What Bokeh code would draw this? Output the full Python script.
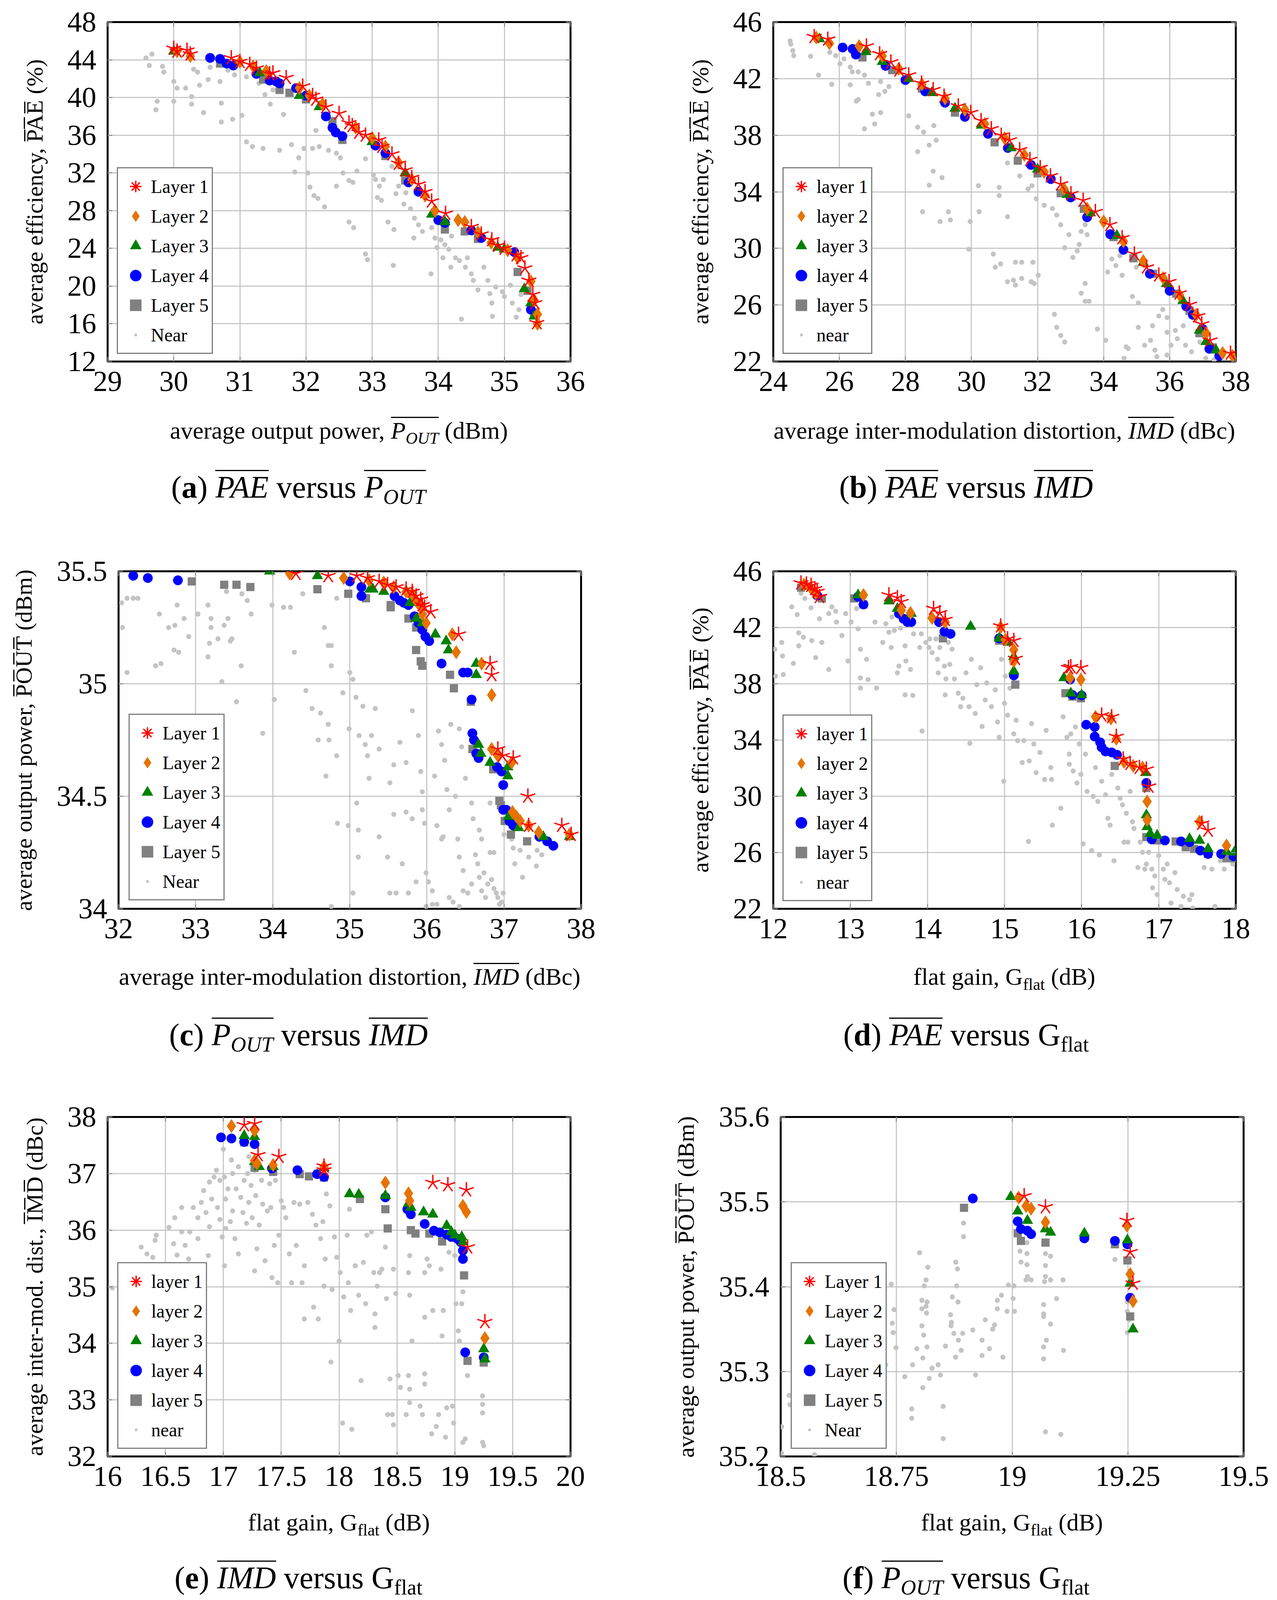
from bokeh.plotting import figure
from bokeh.models import Range1d, FixedTicker, LinearAxis, Legend, LegendItem, Div
from bokeh.layouts import column, row
from bokeh.embed import file_html
from bokeh.resources import INLINE

# ---------------- data ----------------
UPPER_NAMES = ["Layer 1", "Layer 2", "Layer 3", "Layer 4", "Layer 5", "Near"]
LOWER_NAMES = ["layer 1", "layer 2", "layer 3", "layer 4", "layer 5", "near"]

# (a) PAE vs POUT
A_L1 = [(30.0,45.2),(30.05,44.9),(30.2,45.0),(30.25,44.6),(30.87,44.2),(31.0,43.8),(31.15,43.5),(31.25,43.1),(31.45,42.5),(31.5,42.6),(31.7,42.1),(31.95,41.2),(32.1,40.2),(32.15,39.8),(32.3,39.0),(32.5,38.3),(32.65,37.3),(32.7,37.0),(32.8,36.3),(32.9,36.0),(33.1,35.5),(33.15,34.8),(33.3,34.0),(33.4,33.0),(33.5,32.3),(33.6,31.5),(33.7,30.8),(33.8,30.0),(33.9,29.0),(34.11,27.7),(34.5,26.3),(34.65,25.5),(34.81,24.9),(34.9,24.3),(35.0,24.0),(35.18,23.3),(35.25,23.0),(35.31,21.9),(35.37,20.6),(35.43,19.1),(35.46,18.2),(35.49,16.1)]
A_L2 = [(30.05,44.9),(30.25,44.4),(31.0,43.8),(31.2,43.3),(31.4,42.8),(31.9,41.0),(32.05,40.2),(32.25,39.3),(32.75,36.8),(33.0,35.7),(33.2,34.8),(33.4,33.1),(33.6,31.3),(33.8,29.6),(33.95,28.0),(34.3,27.0),(34.4,26.8),(34.6,25.7),(34.8,24.6),(35.05,23.8),(35.2,23.0),(35.4,20.5),(35.45,18.5),(35.5,17.0),(35.5,16.0)]
A_L3 = [(30.0,44.9),(31.3,42.6),(31.9,40.2),(32.2,39.0),(33.0,35.3),(33.5,32.0),(33.9,27.6),(34.1,26.8),(34.9,24.1),(35.0,23.9),(35.3,19.7),(35.4,18.2),(35.45,16.8)]
A_L4 = [(30.55,44.2),(30.7,44.1),(30.8,43.6),(30.9,43.4),(31.25,42.5),(31.45,41.8),(31.55,41.7),(31.6,41.5),(31.85,41.0),(32.0,40.2),(32.3,38.0),(32.4,36.8),(32.45,36.3),(32.55,35.9),(33.05,34.9),(33.2,34.1),(33.55,31.0),(33.7,30.0),(34.0,27.0),(34.1,26.7),(34.5,25.9),(34.65,25.1),(35.15,23.6),(35.4,17.5)]
A_L5 = [(30.7,43.6),(31.35,41.9),(31.6,40.8),(31.75,40.5),(32.0,39.8),(32.4,37.5),(32.55,35.5),(33.2,33.8),(33.5,31.2),(34.1,26.0),(34.4,25.8),(34.6,25.0),(35.2,21.5),(35.35,19.5),(35.45,17.2)]
A_NEAR = [(29.58,44.2),(29.67,44.6),(29.63,43.4),(29.83,43.3),(29.85,42.7),(30.0,41.7),(30.05,41.0),(30.18,41.0),(29.75,39.6),(29.73,38.7),(30.0,39.6),(30.27,40.1),(30.27,39.3),(30.45,38.4),(30.72,39.4),(30.72,37.4),(30.89,37.7),(31.03,38.1),(30.7,41.7),(30.55,43.2),(30.36,42.7),(30.39,41.3),(30.52,41.9),(30.82,42.9),(30.92,42.4),(31.1,42.2),(31.29,41.5),(31.38,40.3),(31.46,39.3),(31.66,38.2),(31.1,35.3),(31.19,34.8),(31.35,34.6),(31.6,34.4),(31.78,35.0),(31.89,33.6),(31.83,32.1),(32.03,32.0),(31.97,34.6),(32.1,34.6),(32.2,34.8),(32.15,36.5),(32.34,34.4),(32.46,34.1),(32.52,33.6),(32.56,32.0),(32.65,31.2),(32.71,31.0),(32.77,32.2),(32.06,30.5),(32.12,29.6),(32.18,29.3),(32.28,28.4),(32.46,30.6),(32.65,26.8),(32.72,26.2),(32.9,23.4),(32.93,22.8),(33.02,31.8),(33.05,31.3),(33.11,30.6),(33.17,31.3),(33.3,32.7),(33.08,29.4),(33.14,29.1),(33.24,26.8),(33.33,26.0),(33.32,22.2),(33.36,29.8),(33.48,28.7),(33.51,29.9),(33.58,28.2),(33.63,25.1),(33.64,27.2),(33.7,26.5),(33.76,25.8),(33.89,21.3),(33.95,25.1),(33.98,24.1),(34.04,24.9),(34.07,23.0),(34.1,24.4),(34.16,23.9),(34.19,22.0),(34.26,23.0),(34.32,22.7),(34.35,16.5),(34.41,22.0),(34.44,23.0),(34.5,21.3),(34.53,20.6),(34.6,19.6),(34.69,22.0),(34.75,20.6),(34.78,19.2),(34.81,18.2),(34.82,16.8),(34.87,19.9),(34.97,19.4),(35.0,18.9),(35.09,20.1),(35.12,18.2),(35.18,16.7),(35.22,17.5),(35.25,19.1),(33.9,26.2),(34.2,25.3),(33.4,30.6),(32.9,33.5),(31.5,40.8),(30.3,43.0)]

# (b) PAE vs IMD
B_L1 = [(25.24,44.96),(25.65,44.78),(26.82,44.3),(27.22,43.75),(27.56,43.17),(27.81,42.6),(28.1,42.25),(28.49,41.67),(28.84,41.21),(29.17,40.75),(29.6,40.06),(29.98,39.6),(30.29,39.03),(30.6,38.45),(30.9,37.99),(31.15,37.65),(31.46,36.96),(31.77,36.27),(32.08,35.7),(32.39,35.12),(32.7,34.54),(33.01,33.85),(33.38,33.39),(33.75,32.59),(34.19,31.67),(34.56,30.74),(34.93,29.6),(35.3,28.67),(35.67,28.1),(35.98,27.64),(36.29,26.83),(36.6,26.03),(36.85,25.22),(36.97,24.65),(37.22,23.5),(37.84,22.58)]
B_L2 = [(25.3,44.9),(25.7,44.5),(26.6,44.3),(27.3,43.6),(27.8,42.7),(28.5,41.6),(29.2,40.6),(29.8,39.8),(30.4,38.8),(31.0,37.8),(31.6,36.6),(32.2,35.4),(32.8,34.2),(33.5,32.8),(34.0,31.9),(34.6,30.5),(35.2,29.1),(35.8,27.9),(36.3,26.7),(36.8,25.3),(37.1,24.0),(37.6,22.6),(37.9,22.4)]
B_L3 = [(25.4,44.8),(26.8,43.9),(27.3,43.2),(28.1,42.0),(28.8,41.0),(29.5,39.9),(30.3,38.7),(31.2,37.1),(32.0,35.6),(32.9,33.8),(33.6,32.5),(34.4,30.9),(35.2,29.0),(35.9,27.5),(36.4,26.3),(36.9,24.2),(37.1,23.4),(37.4,22.8)]
B_L4 = [(26.1,44.2),(26.4,44.1),(26.5,43.7),(27.4,42.9),(28.0,41.9),(28.6,41.1),(29.2,40.3),(29.8,39.3),(30.5,38.1),(31.1,37.1),(31.8,35.9),(32.4,34.9),(33.0,33.6),(33.5,32.2),(34.2,31.0),(34.6,29.9),(35.4,28.2),(36.0,27.0),(36.5,25.9),(36.7,25.3),(37.0,24.3),(37.2,22.9),(37.5,22.4)]
B_L5 = [(26.7,43.5),(27.6,42.6),(28.5,41.3),(29.5,39.6),(30.7,37.5),(31.4,36.2),(32.0,35.3),(32.7,33.9),(33.4,32.8),(34.3,30.8),(34.9,29.3),(35.5,28.2),(36.2,26.8),(36.6,25.6),(36.9,24.0),(37.3,23.0)]
B_NEAR = [(24.51,44.67),(24.53,44.44),(24.59,43.98),(24.62,43.63),(25.13,43.58),(25.37,42.25),(25.77,41.6),(25.71,43.86),(25.89,43.63),(26.02,43.05),(26.14,43.4),(26.33,42.82),(26.39,42.48),(26.57,42.48),(26.76,42.25),(26.33,41.56),(26.51,40.41),(26.57,40.52),(27.0,39.49),(27.25,39.6),(26.76,38.45),(27.07,38.8),(27.25,41.79),(27.5,41.44),(26.88,41.67),(27.19,40.87),(27.38,41.1),(28.1,39.37),(28.37,38.57),(28.37,36.84),(28.55,38.22),(28.72,37.3),(28.86,38.68),(28.93,37.65),(28.84,35.46),(29.11,35.0),(28.72,34.47),(28.52,32.59),(29.05,31.9),(29.3,32.59),(29.36,32.01),(29.92,29.94),(29.96,31.9),(30.23,32.59),(30.21,34.43),(30.66,29.6),(30.72,28.67),(30.88,28.9),(30.84,34.31),(30.84,33.74),(31.09,32.24),(31.09,27.64),(31.27,27.75),(31.33,27.41),(31.33,29.02),(31.52,27.87),(31.52,29.02),(31.81,27.64),(31.86,29.02),(31.9,27.52),(32.02,28.1),(31.09,36.04),(31.46,35.12),(31.71,34.2),(31.83,34.43),(31.96,33.51),(32.2,33.05),(32.45,32.82),(32.58,32.36),(32.7,31.67),(32.95,30.97),(32.82,30.05),(33.07,29.36),(33.2,29.82),(33.26,30.28),(33.32,31.2),(33.44,31.67),(33.5,30.97),(33.44,27.52),(33.32,26.83),(33.44,26.26),(33.56,26.26),(32.51,25.34),(32.58,24.42),(32.7,23.84),(32.82,23.38),(33.81,24.3),(34.06,23.5),(34.12,28.33),(34.37,28.79),(34.49,29.48),(34.56,28.1),(34.68,23.04),(34.74,22.92),(34.62,22.23),(34.87,26.6),(35.05,26.14),(35.05,24.42),(35.24,23.15),(35.42,23.5),(35.48,24.53),(35.55,22.81),(35.61,22.35),(35.67,25.22),(35.79,25.68),(35.92,24.07),(35.92,25.11),(35.92,22.46),(36.04,23.15),(36.17,24.19),(36.23,23.61),(36.41,24.53),(36.48,23.15),(36.66,22.69),(36.91,23.38),(37.09,22.23),(37.34,22.12),(34.99,28.67),(34.25,29.25)]

# (c) POUT vs IMD
C_L1 = [(34.3,35.49),(34.72,35.48),(35.09,35.48),(35.23,35.47),(35.38,35.455),(35.49,35.44),(35.6,35.43),(35.73,35.42),(35.81,35.41),(35.86,35.39),(35.92,35.375),(35.94,35.35),(35.97,35.34),(36.05,35.32),(36.41,35.22),(36.82,35.09),(36.84,35.04),(36.92,34.71),(36.98,34.68),(37.12,34.67),(37.31,34.5),(37.32,34.37),(37.75,34.37),(37.87,34.33)]
C_L2 = [(34.22,35.49),(34.92,35.47),(35.25,35.46),(35.44,35.45),(35.57,35.43),(35.73,35.41),(35.81,35.4),(35.86,35.37),(35.92,35.34),(35.94,35.31),(35.99,35.27),(36.33,35.22),(36.38,35.14),(36.71,35.09),(36.84,34.95),(36.84,34.71),(36.92,34.68),(37.1,34.65),(37.11,34.43),(37.16,34.41),(37.21,34.39),(37.32,34.37),(37.45,34.34),(37.85,34.33)]
C_L3 = [(33.96,35.5),(34.58,35.48),(35.26,35.42),(35.3,35.42),(35.44,35.41),(35.78,35.36),(35.86,35.29),(35.94,35.27),(36.11,35.22),(36.25,35.19),(36.28,35.15),(36.64,35.09),(36.64,35.04),(36.67,34.73),(36.7,34.69),(36.82,34.65),(37.05,34.63),(37.05,34.59),(37.06,34.41),(37.19,34.36),(37.51,34.32),(37.85,34.32)]
C_L4 = [(32.19,35.48),(32.38,35.47),(32.77,35.46),(35.0,35.455),(35.15,35.43),(35.15,35.39),(35.58,35.39),(35.65,35.37),(35.7,35.36),(35.76,35.35),(35.84,35.3),(35.89,35.27),(35.94,35.24),(35.98,35.21),(36.03,35.19),(36.19,35.09),(36.47,35.05),(36.53,35.05),(36.58,34.93),(36.59,34.78),(36.61,34.75),(36.64,34.69),(36.67,34.67),(36.91,34.63),(36.97,34.61),(36.99,34.55),(36.99,34.44),(37.03,34.44),(37.07,34.39),(37.12,34.37),(37.46,34.32),(37.56,34.3),(37.64,34.28)]
C_L5 = [(32.95,35.455),(33.37,35.44),(33.53,35.44),(33.71,35.43),(34.58,35.42),(34.98,35.4),(35.21,35.38),(35.53,35.35),(35.53,35.34),(35.76,35.29),(35.86,35.25),(35.86,35.15),(35.92,35.1),(35.94,35.08),(36.3,35.04),(36.35,34.98),(36.57,34.92),(36.59,34.71),(36.86,34.62),(36.94,34.48),(36.96,34.46),(37.01,34.39),(37.09,34.33),(37.3,34.3)]
C_NEAR = [(32.04,35.36),(32.11,35.38),(32.19,35.38),(32.25,35.38),(32.05,35.25),(32.11,35.05),(32.53,35.31),(32.48,35.08),(32.55,35.09),(32.65,35.25),(32.73,35.26),(32.76,35.35),(32.85,35.29),(32.72,35.15),(32.78,35.14),(32.91,35.21),(33.03,35.31),(33.16,35.35),(33.16,35.12),(33.18,35.18),(33.2,35.29),(33.2,35.25),(33.29,35.2),(33.34,35.01),(33.37,35.26),(33.42,35.29),(33.45,35.19),(33.47,35.2),(33.53,34.92),(33.59,35.08),(33.4,35.41),(33.6,35.4),(33.67,35.37),(33.72,35.31),(33.87,34.78),(33.99,35.35),(34.02,34.93),(34.14,35.34),(34.23,35.34),(34.28,35.14),(34.39,35.4),(34.43,34.97),(34.51,34.89),(34.62,34.87),(34.59,34.75),(34.67,35.25),(34.69,34.59),(34.72,34.82),(34.73,34.75),(34.72,35.17),(34.76,35.17),(34.76,35.08),(34.83,35.38),(34.83,34.68),(34.84,34.38),(34.99,34.8),(34.98,34.37),(35.0,35.05),(34.91,34.96),(35.04,34.07),(35.04,35.02),(35.08,34.94),(35.09,34.47),(35.11,34.35),(35.11,34.23),(35.12,34.77),(35.17,34.9),(35.2,34.73),(35.23,34.68),(35.25,34.58),(35.28,34.77),(35.33,34.89),(35.38,34.71),(35.38,34.32),(35.49,34.23),(35.52,34.56),(35.52,34.07),(35.57,34.42),(35.57,34.64),(35.6,34.07),(35.65,34.74),(35.68,34.2),(35.73,34.43),(35.73,34.65),(35.76,34.07),(35.81,34.88),(35.81,34.4),(35.86,34.12),(35.89,34.77),(35.92,34.61),(35.94,34.52),(35.94,34.44),(35.97,34.38),(35.99,34.16),(36.02,34.12),(35.99,34.01),(36.07,34.02),(36.07,34.08),(36.1,34.59),(36.13,34.02),(36.13,34.37),(36.15,34.79),(36.19,34.73),(36.19,34.31),(36.21,34.32),(36.23,34.66),(36.26,34.53),(36.29,34.44),(36.29,34.05),(36.31,34.82),(36.34,34.03),(36.37,34.5),(36.4,34.31),(36.42,34.8),(36.42,34.23),(36.45,34.72),(36.47,34.08),(36.47,34.17),(36.5,34.58),(36.53,34.07),(36.58,34.47),(36.58,34.11),(36.6,34.4),(36.63,34.24),(36.66,34.2),(36.68,34.14),(36.68,34.35),(36.71,34.08),(36.71,34.31),(36.74,34.16),(36.76,34.05),(36.79,34.11),(36.82,34.47),(36.82,34.25),(36.84,34.13),(36.87,34.09),(36.87,34.25),(36.9,34.07),(36.92,34.05),(36.94,34.02),(36.97,34.03),(36.99,34.07),(37.0,34.33),(37.1,34.31),(37.12,34.27),(37.14,34.2),(37.21,34.26),(37.24,34.14),(37.32,34.23),(37.43,34.26),(37.49,34.24),(37.42,34.19),(36.42,34.01),(34.76,34.01)]

# (d) PAE vs Gflat
D_L1 = [(12.36,45.16),(12.43,45.09),(12.49,44.99),(12.54,44.75),(12.57,44.56),(12.6,44.19),(13.5,44.31),(13.61,44.12),(13.66,43.83),(14.08,43.35),(14.16,43.04),(14.23,42.56),(14.95,42.1),(15.04,41.19),(15.12,41.07),(15.14,39.79),(15.83,39.14),(15.86,39.21),(15.99,39.14),(16.26,35.77),(16.39,35.65),(16.45,34.25),(16.54,32.64),(16.63,32.33),(16.75,32.04),(16.84,31.92),(16.87,30.71),(17.56,28.07),(17.64,27.58)]
D_L2 = [(12.4,45.04),(12.49,44.8),(12.55,44.44),(13.17,44.31),(13.66,43.23),(13.78,43.04),(14.06,42.68),(14.23,42.39),(14.95,42.03),(15.01,41.14),(15.12,40.42),(15.12,39.62),(15.85,38.42),(15.99,38.3),(16.18,35.65),(16.38,35.53),(16.45,34.08),(16.55,32.45),(16.67,32.16),(16.79,32.04),(16.85,29.63),(16.85,28.31),(17.53,28.19),(17.88,26.5)]
D_L3 = [(12.43,44.92),(13.1,44.31),(13.5,43.88),(13.61,43.35),(13.79,42.99),(14.56,42.08),(14.93,41.23),(15.05,40.94),(15.12,39.93),(15.12,38.9),(15.77,38.42),(15.86,37.33),(16.0,37.21),(16.83,31.68),(16.84,28.67),(16.85,27.83),(16.89,27.34),(16.98,27.22),(17.4,26.98),(17.53,26.86),(17.64,26.26),(17.88,26.07),(17.98,26.02)]
D_L4 = [(12.57,44.27),(13.1,44.19),(13.17,43.64),(13.63,42.99),(13.69,42.63),(13.74,42.39),(13.79,42.39),(14.15,42.39),(14.22,41.71),(14.3,41.55),(14.93,41.23),(15.12,38.59),(15.85,38.3),(15.88,37.21),(16.0,37.17),(16.06,35.09),(16.17,34.93),(16.17,34.25),(16.24,33.84),(16.26,33.48),(16.31,33.19),(16.39,33.12),(16.46,32.95),(16.84,30.95),(16.91,26.93),(17.08,26.86),(17.29,26.79),(17.4,26.74),(17.54,26.14),(17.64,25.9),(17.81,25.9),(17.97,25.73)]
D_L5 = [(12.36,44.84),(12.63,44.07),(13.05,44.07),(13.17,43.64),(13.77,42.44),(14.2,41.23),(14.93,41.07),(15.14,37.94),(15.79,37.33),(15.88,37.09),(15.99,36.97),(16.43,32.16),(16.84,30.59),(16.84,27.1),(16.98,26.86),(17.22,26.79),(17.35,26.38),(17.46,26.26),(17.64,25.9),(17.88,25.59),(17.98,25.59)]
D_NEAR = [(12.02,40.46),(12.03,38.54),(12.11,40.94),(12.12,39.98),(12.13,38.66),(12.24,43.47),(12.26,39.45),(12.31,42.92),(12.33,41.62),(12.33,40.7),(12.39,41.31),(12.36,44.44),(12.41,44.07),(12.49,43.4),(12.5,41.07),(12.55,39.86),(12.6,42.63),(12.63,40.94),(12.72,39.02),(12.72,42.99),(12.76,43.47),(12.81,43.16),(12.82,42.39),(12.89,41.43),(12.94,42.99),(12.97,39.62),(13.01,42.39),(13.08,43.35),(13.1,41.91),(13.13,40.46),(13.13,38.42),(13.13,37.7),(13.23,38.3),(13.21,39.74),(13.32,42.39),(13.34,37.7),(13.42,40.94),(13.46,42.27),(13.5,41.67),(13.53,40.58),(13.54,42.75),(13.57,41.79),(13.61,38.78),(13.63,39.26),(13.65,41.96),(13.71,40.7),(13.71,37.21),(13.72,39.62),(13.78,39.02),(13.81,37.17),(13.82,41.55),(13.9,40.58),(13.92,41.55),(13.93,34.64),(13.98,40.94),(14.02,40.58),(14.03,41.19),(14.06,40.22),(14.11,41.19),(14.13,39.74),(14.14,38.78),(14.16,40.58),(14.22,39.26),(14.23,37.21),(14.24,38.35),(14.27,40.94),(14.29,39.38),(14.32,40.46),(14.35,38.35),(14.4,37.33),(14.43,36.37),(14.46,36.97),(14.5,38.78),(14.54,36.37),(14.55,33.77),(14.57,39.74),(14.62,35.89),(14.64,37.94),(14.69,39.14),(14.71,34.97),(14.75,36.85),(14.77,38.06),(14.83,36.37),(14.88,37.57),(14.91,35.29),(14.93,34.2),(14.96,39.74),(14.99,31.07),(15.0,36.61),(15.01,38.54),(15.04,35.77),(15.07,37.69),(15.09,39.5),(15.12,34.44),(15.15,35.41),(15.17,33.96),(15.23,32.4),(15.25,33.96),(15.31,26.79),(15.32,32.52),(15.35,35.17),(15.38,33.72),(15.41,31.68),(15.46,33.12),(15.52,31.2),(15.54,34.69),(15.6,32.04),(15.61,31.2),(15.62,27.95),(15.73,29.15),(15.76,35.65),(15.81,34.2),(15.84,33.0),(15.84,32.28),(15.86,34.44),(15.89,31.8),(15.92,34.93),(15.94,30.95),(15.97,33.72),(15.99,31.56),(16.02,26.62),(16.05,33.0),(16.07,30.35),(16.13,26.14),(16.15,29.99),(16.18,32.04),(16.21,29.63),(16.23,25.83),(16.26,31.07),(16.31,30.11),(16.34,28.43),(16.37,27.95),(16.39,31.56),(16.42,25.42),(16.47,30.59),(16.5,29.87),(16.53,29.39),(16.55,26.74),(16.58,28.79),(16.6,26.74),(16.63,30.35),(16.66,28.19),(16.68,27.71),(16.73,24.94),(16.76,26.74),(16.79,26.02),(16.82,24.82),(16.84,25.18),(16.87,26.02),(16.91,24.82),(16.92,23.49),(16.95,24.33),(16.98,23.01),(17.0,25.78),(17.06,24.82),(17.08,24.09),(17.11,25.18),(17.14,23.85),(17.16,22.41),(17.21,24.57),(17.24,23.37),(17.29,22.17),(17.32,22.89),(17.4,22.65),(17.43,23.01),(17.44,22.05),(17.59,24.94),(17.69,24.82),(17.73,22.17),(17.8,25.42),(17.85,24.82),(17.93,25.66),(17.96,25.18)]

# (e) IMD vs Gflat
E_L1 = [(17.18,37.86),(17.27,37.88),(17.3,37.33),(17.48,37.3),(17.87,37.13),(17.87,37.06),(18.81,36.84),(18.94,36.8),(19.1,36.71),(19.11,35.7),(19.26,34.38)]
E_L2 = [(17.07,37.84),(17.27,37.76),(17.27,37.23),(17.29,37.18),(17.43,37.15),(17.87,37.12),(18.4,36.84),(18.6,36.65),(18.61,36.52),(19.07,36.43),(19.1,36.32),(19.26,34.09)]
E_L3 = [(17.18,37.67),(17.27,37.65),(17.27,37.21),(17.31,37.12),(17.43,37.12),(17.87,37.1),(18.09,36.64),(18.17,36.63),(18.4,36.61),(18.6,36.47),(18.62,36.4),(18.73,36.32),(18.81,36.28),(18.93,36.08),(18.97,35.97),(19.0,35.91),(19.06,35.88),(19.07,35.79),(19.25,33.9),(19.26,33.72)]
E_L4 = [(16.98,37.64),(17.07,37.62),(17.18,37.56),(17.27,37.52),(17.42,37.09),(17.64,37.06),(17.81,36.99),(17.87,36.94),(18.4,36.58),(18.59,36.37),(18.62,36.28),(18.74,36.11),(18.82,35.99),(18.87,35.96),(18.93,35.92),(18.97,35.88),(19.02,35.85),(19.05,35.79),(19.07,35.64),(19.07,35.49),(19.09,33.84),(19.25,33.75)]
E_L5 = [(17.18,37.55),(17.27,37.1),(17.43,37.03),(17.66,36.99),(17.74,36.95),(17.87,36.93),(18.18,36.55),(18.4,36.37),(18.42,36.03),(18.62,36.0),(18.66,35.94),(18.78,35.94),(18.89,35.8),(19.08,35.2),(19.11,33.69),(19.25,33.66)]
E_NEAR = [(16.04,34.98),(16.29,35.7),(16.34,35.58),(16.39,35.52),(16.42,35.91),(16.41,35.82),(16.53,36.05),(16.57,35.76),(16.6,35.56),(16.64,35.97),(16.58,36.22),(16.64,36.4),(16.67,35.73),(16.7,35.49),(16.71,35.97),(16.74,36.4),(16.78,35.85),(16.78,36.22),(16.81,36.49),(16.83,36.7),(16.85,36.31),(16.87,35.55),(16.88,36.06),(16.88,36.85),(16.9,36.55),(16.92,36.94),(16.94,37.06),(16.95,36.4),(16.97,36.19),(16.97,36.88),(16.99,35.88),(17.0,37.43),(17.01,36.94),(17.01,35.37),(17.02,36.55),(17.02,36.03),(17.04,36.73),(17.06,36.15),(17.07,37.24),(17.08,37.0),(17.08,36.34),(17.1,35.85),(17.11,36.73),(17.13,37.12),(17.13,35.58),(17.15,36.58),(17.17,36.31),(17.18,36.88),(17.2,36.12),(17.21,37.0),(17.22,37.3),(17.22,36.49),(17.24,36.79),(17.25,36.22),(17.27,37.06),(17.27,35.28),(17.28,36.61),(17.29,35.67),(17.31,36.09),(17.33,36.88),(17.34,36.46),(17.36,35.46),(17.38,36.34),(17.4,36.82),(17.41,36.4),(17.42,35.16),(17.44,35.73),(17.45,36.88),(17.47,35.07),(17.48,35.91),(17.5,36.52),(17.52,36.4),(17.54,36.22),(17.57,35.58),(17.59,35.07),(17.61,36.49),(17.63,35.73),(17.66,36.46),(17.68,35.07),(17.7,35.37),(17.7,34.43),(17.73,36.49),(17.77,36.28),(17.78,34.64),(17.8,36.09),(17.82,34.43),(17.84,35.85),(17.86,36.15),(17.87,35.01),(17.88,35.49),(17.89,36.64),(17.92,36.43),(17.93,33.67),(17.94,34.95),(17.96,35.88),(17.98,35.52),(18.0,34.04),(18.01,35.25),(18.03,32.59),(18.04,34.82),(18.07,35.91),(18.08,35.07),(18.09,36.37),(18.1,34.58),(18.11,32.48),(18.14,35.37),(18.17,34.85),(18.19,33.34),(18.21,35.43),(18.23,34.7),(18.24,35.91),(18.28,35.97),(18.3,35.25),(18.31,34.52),(18.31,34.28),(18.33,35.01),(18.35,35.25),(18.37,35.31),(18.4,35.7),(18.41,34.79),(18.42,32.74),(18.44,33.37),(18.46,32.74),(18.47,35.31),(18.47,32.56),(18.49,34.88),(18.51,33.43),(18.53,33.22),(18.58,32.74),(18.6,33.43),(18.6,35.25),(18.61,35.55),(18.61,34.85),(18.61,33.19),(18.61,32.95),(18.63,34.04),(18.7,32.89),(18.72,32.74),(18.74,34.46),(18.74,35.25),(18.74,33.46),(18.74,33.28),(18.76,35.49),(18.78,35.37),(18.8,32.4),(18.81,34.58),(18.84,32.53),(18.86,32.74),(18.88,35.31),(18.89,34.13),(18.9,34.58),(18.92,32.34),(18.93,32.86),(18.95,35.61),(18.98,32.89),(18.99,32.59),(19.0,35.55),(19.01,34.7),(19.03,34.22),(19.04,34.04),(19.06,34.7),(19.07,32.25),(19.07,34.91),(19.09,32.31),(19.11,33.43),(19.24,33.07),(19.24,32.92),(19.24,32.77),(19.24,32.25),(19.25,32.19)]

# (f) POUT vs Gflat
F_L1 = [(19.026,35.507),(19.072,35.494),(19.248,35.478),(19.255,35.441),(19.261,35.404)]
F_L2 = [(19.014,35.505),(19.03,35.495),(19.041,35.492),(19.072,35.476),(19.248,35.472),(19.255,35.415),(19.261,35.383)]
F_L3 = [(18.997,35.506),(19.012,35.489),(19.033,35.478),(19.072,35.468),(19.083,35.464),(19.156,35.463),(19.249,35.455),(19.255,35.404),(19.261,35.35)]
F_L4 = [(18.915,35.504),(19.012,35.477),(19.019,35.468),(19.033,35.466),(19.041,35.462),(19.156,35.457),(19.222,35.454),(19.249,35.45),(19.255,35.387)]
F_L5 = [(18.896,35.493),(19.012,35.463),(19.019,35.454),(19.072,35.452),(19.222,35.45),(19.249,35.431),(19.255,35.365)]
F_NEAR = [(18.502,35.235),(18.502,35.204),(18.518,35.272),(18.52,35.261),(18.573,35.202),(18.721,35.302),(18.727,35.308),(18.739,35.403),(18.741,35.357),(18.743,35.346),(18.745,35.373),(18.749,35.328),(18.768,35.294),(18.783,35.256),(18.783,35.245),(18.785,35.308),(18.794,35.327),(18.8,35.44),(18.805,35.354),(18.805,35.374),(18.805,35.384),(18.807,35.281),(18.807,35.316),(18.809,35.343),(18.81,35.401),(18.814,35.377),(18.814,35.408),(18.815,35.369),(18.816,35.382),(18.816,35.329),(18.818,35.423),(18.821,35.292),(18.827,35.304),(18.84,35.308),(18.845,35.296),(18.851,35.259),(18.851,35.221),(18.856,35.33),(18.867,35.367),(18.868,35.354),(18.869,35.358),(18.871,35.388),(18.874,35.345),(18.878,35.317),(18.878,35.429),(18.88,35.401),(18.882,35.421),(18.883,35.382),(18.884,35.337),(18.89,35.325),(18.893,35.345),(18.895,35.475),(18.895,35.459),(18.915,35.349),(18.921,35.296),(18.935,35.337),(18.935,35.319),(18.942,35.361),(18.951,35.327),(18.958,35.35),(18.962,35.355),(18.968,35.384),(18.968,35.374),(18.977,35.39),(18.98,35.317),(18.989,35.371),(18.992,35.402),(19.002,35.386),(19.004,35.401),(19.005,35.371),(19.017,35.442),(19.019,35.429),(19.03,35.408),(19.032,35.452),(19.032,35.439),(19.032,35.426),(19.033,35.412),(19.041,35.408),(19.068,35.379),(19.068,35.368),(19.068,35.365),(19.068,35.329),(19.068,35.315),(19.07,35.406),(19.072,35.439),(19.072,35.425),(19.072,35.412),(19.074,35.337),(19.072,35.229),(19.083,35.436),(19.083,35.408),(19.083,35.356),(19.096,35.386),(19.105,35.226),(19.11,35.408),(19.111,35.325),(19.222,35.432),(19.249,35.382),(19.249,35.371),(19.249,35.346),(19.253,35.361),(19.255,35.413)]

# axis ticks
A_XT = [29, 30, 31, 32, 33, 34, 35, 36]; A_YT = [12, 16, 20, 24, 28, 32, 36, 40, 44, 48]
B_XT = [24, 26, 28, 30, 32, 34, 36, 38]; B_YT = [22, 26, 30, 34, 38, 42, 46]
C_XT = [32, 33, 34, 35, 36, 37, 38]; C_YT = [34, 34.5, 35, 35.5]
D_XT = [12, 13, 14, 15, 16, 17, 18]; D_YT = [22, 26, 30, 34, 38, 42, 46]
E_XT = [16, 16.5, 17, 17.5, 18, 18.5, 19, 19.5, 20]; E_YT = [32, 33, 34, 35, 36, 37, 38]
F_XT = [18.5, 18.75, 19, 19.25, 19.5]; F_YT = [35.2, 35.3, 35.4, 35.5, 35.6]

# ---------------- styling ----------------
FONT = "Liberation Serif"
OL = "\u0305"
RED = "#FF0000"; ORANGE = "#E67300"; GREEN = "#008000"; BLUE = "#0000FF"
GRAY5 = "#808080"; NEARC = "#C4C4C4"; GRIDC = "#BFBFBF"; TICKC = "#8C8C8C"


def ov(s):
    return "".join(c + OL for c in s)


def fmt(v):
    return f"{v:g}"


def pts(lst):
    return [a for a, b in lst], [b for a, b in lst]


def make_panel(sp):
    L, FW, R, T, FH, B = sp["box"]
    p = figure(width=L + FW + R, height=T + FH + B,
               x_range=Range1d(sp["xt"][0], sp["xt"][-1]),
               y_range=Range1d(sp["yt"][0], sp["yt"][-1]),
               output_backend="svg", toolbar_location=None,
               min_border_left=L, min_border_right=R, min_border_top=T, min_border_bottom=B,
               background_fill_color="white", border_fill_color="white")
    # a range that places legend-only renderers far outside the frame (they are clipped)
    p.extra_x_ranges = {"legend_only": Range1d(1e6, 1e6 + 1)}
    p.outline_line_color = "black"
    p.outline_line_width = 5
    xt = FixedTicker(ticks=sp["xt"])
    yt = FixedTicker(ticks=sp["yt"])
    p.xaxis.ticker = xt
    p.yaxis.ticker = yt
    p.xgrid.ticker = xt
    p.ygrid.ticker = yt
    p.grid.grid_line_color = GRIDC
    p.grid.grid_line_width = 2.5
    for ax, ticks in ((p.xaxis[0], sp["xt"]), (p.yaxis[0], sp["yt"])):
        ax.axis_line_color = None
        ax.major_tick_in = 12
        ax.major_tick_out = 0
        ax.major_tick_line_color = TICKC
        ax.major_tick_line_width = 2.5
        ax.minor_tick_line_color = None
        ax.major_label_text_font = FONT
        ax.major_label_text_font_size = "74px"
        ax.major_label_text_color = "black"
        ax.major_label_overrides = {t: fmt(t) for t in ticks}
    p.xaxis[0].major_label_standoff = 26
    p.yaxis[0].major_label_standoff = 29
    ya = p.yaxis[0]
    ya.axis_label = sp["ylabel"]
    ya.axis_label_text_font = FONT
    ya.axis_label_text_font_size = "60px"
    ya.axis_label_text_font_style = "normal"
    ya.axis_label_text_color = "black"
    ya.axis_label_standoff = 48
    for loc, tk in (("above", xt), ("right", yt)):
        ax = LinearAxis(ticker=tk, major_label_text_color=None, major_label_text_font_size="10px",
                        major_tick_in=12, major_tick_out=0, major_tick_line_color=TICKC,
                        major_tick_line_width=2.5, minor_tick_line_color=None,
                        axis_line_color=None, major_label_standoff=0)
        p.add_layout(ax, loc)

    nx, ny = pts(sp["near"])
    p.scatter(nx, ny, marker="circle", size=13, fill_color=NEARC, line_color=None)
    x5, y5 = pts(sp["l5"])
    r5 = p.scatter(x5, y5, marker="square", size=21, fill_color=GRAY5, line_color=None)
    x4, y4 = pts(sp["l4"])
    r4 = p.scatter(x4, y4, marker="circle", size=25, fill_color=BLUE, line_color=None)
    x3, y3 = pts(sp["l3"])
    r3 = p.scatter(x3, y3, marker="triangle", size=29, fill_color=GREEN, line_color=None)
    x2, y2 = pts(sp["l2"])
    r2 = p.scatter(x2, y2, marker="diamond", size=36, fill_color=ORANGE, line_color=None)
    x1, y1 = pts(sp["l1"])
    for ang in (90, 162, 234, 306, 18):
        p.ray(x=x1, y=y1, length=20, length_units="screen", angle=ang, angle_units="deg",
              line_color=RED, line_width=3.5)
    # legend-only renderers: same data, mapped onto the off-frame range
    d1 = p.scatter(x1, y1, marker="asterisk", size=30, line_color=RED, line_width=3.5,
                   x_range_name="legend_only")
    dn = p.scatter(nx, ny, marker="dot", size=30, line_color=NEARC, fill_color=NEARC, line_width=8,
                   x_range_name="legend_only")
    names = sp["names"]
    legend = Legend(items=[LegendItem(label=names[0], renderers=[d1]),
                           LegendItem(label=names[1], renderers=[r2]),
                           LegendItem(label=names[2], renderers=[r3]),
                           LegendItem(label=names[3], renderers=[r4]),
                           LegendItem(label=names[4], renderers=[r5]),
                           LegendItem(label=names[5], renderers=[dn])],
                    location=sp["leg"])
    legend.label_text_font = FONT
    legend.label_text_font_size = "48px"
    legend.label_text_color = "black"
    legend.glyph_width = 74
    legend.glyph_height = 76
    legend.label_height = 76
    legend.label_standoff = 2
    legend.spacing = 0
    legend.padding = 8
    legend.margin = 0
    legend.border_line_color = "black"
    legend.border_line_width = 3
    legend.background_fill_color = "white"
    legend.background_fill_alpha = 1
    p.add_layout(legend)
    return p


PAE_LABEL = "average efficiency, " + ov("PAE") + " (%)"
POUT_LABEL = "average output power, " + ov("POUT") + " (dBm)"
IMD_LABEL = "average inter-mod. dist., " + ov("IMD") + " (dBc)"

panels = {
    "a": dict(l1=A_L1, l2=A_L2, l3=A_L3, l4=A_L4, l5=A_L5, near=A_NEAR, xt=A_XT, yt=A_YT,
              ylabel=PAE_LABEL, names=UPPER_NAMES, leg=(24, 19), box=(275, 1185, 80, 56, 869, 120)),
    "b": dict(l1=B_L1, l2=B_L2, l3=B_L3, l4=B_L4, l5=B_L5, near=B_NEAR, xt=B_XT, yt=B_YT,
              ylabel=PAE_LABEL, names=LOWER_NAMES, leg=(24, 19), box=(439, 1184, 90, 56, 869, 120)),
    "c": dict(l1=C_L1, l2=C_L2, l3=C_L3, l4=C_L4, l5=C_L5, near=C_NEAR, xt=C_XT, yt=C_YT,
              ylabel=POUT_LABEL, names=UPPER_NAMES, leg=(26, 21), box=(303, 1184, 80, 90, 871, 120)),
    "d": dict(l1=D_L1, l2=D_L2, l3=D_L3, l4=D_L4, l5=D_L5, near=D_NEAR, xt=D_XT, yt=D_YT,
              ylabel=PAE_LABEL, names=LOWER_NAMES, leg=(24, 19), box=(412, 1184, 90, 97, 869, 115)),
    "e": dict(l1=E_L1, l2=E_L2, l3=E_L3, l4=E_L4, l5=E_L5, near=E_NEAR, xt=E_XT, yt=E_YT,
              ylabel=IMD_LABEL, names=LOWER_NAMES, leg=(25, 19), box=(275, 1185, 80, 96, 869, 120)),
    "f": dict(l1=F_L1, l2=F_L2, l3=F_L3, l4=F_L4, l5=F_L5, near=F_NEAR, xt=F_XT, yt=F_YT,
              ylabel=POUT_LABEL, names=UPPER_NAMES, leg=(26, 19), box=(458, 1185, 70, 96, 869, 120)),
}
figs = {k: make_panel(v) for k, v in panels.items()}

OV = '<span style="display:inline-block; border-top:3px solid black; line-height:1; padding-top:1px;">'
SUB = '<sub style="font-size:0.68em; vertical-align:-0.3em; line-height:0;">'
H_POUT = OV + "<i>P</i>" + SUB + "<i>OUT</i></sub></span>"
H_PAE = OV + "<i>PAE</i></span>"
H_IMD = OV + "<i>IMD</i></span>"
H_G = "G" + SUB + "flat</sub>"

X_POUT = "average output power, " + H_POUT + " (dBm)"
X_IMD = "average inter-modulation distortion, " + H_IMD + " (dBc)"
X_G = "flat gain, " + H_G + " (dB)"


def cap(letter, a, b):
    return "(<b>" + letter + "</b>) " + a + " versus " + b


def band(h, items):
    inner = ""
    for left, top, width, fs, lh, html in items:
        inner += ('<div style="position:absolute; left:%dpx; top:%dpx; width:%dpx; text-align:center; '
                  'font-size:%dpx; line-height:%dpx; white-space:nowrap;">%s</div>') % (left, top, width, fs, lh, html)
    text = ('<div style="position:relative; width:3253px; height:%dpx; overflow:visible; '
            'font-family:\'Liberation Serif\', serif; color:black;">%s</div>') % (h, inner)
    return Div(text=text, width=3253, height=h, margin=0)


XL_FS, XL_LH, CP_FS, CP_LH = 62, 74, 80, 86
band1 = band(320, [(275, 57 - 37, 1185, XL_FS, XL_LH, X_POUT), (1979, 57 - 37, 1184, XL_FS, XL_LH, X_IMD),
                   (64, 201 - 43, 1400, CP_FS, CP_LH, cap("a", H_PAE, H_POUT)),
                   (1773, 201 - 43, 1400, CP_FS, CP_LH, cap("b", H_PAE, H_IMD))])
band2 = band(317, [(303, 54 - 37, 1184, XL_FS, XL_LH, X_IMD), (1979, 54 - 37, 1184, XL_FS, XL_LH, X_G),
                   (64, 202 - 43, 1400, CP_FS, CP_LH, cap("c", H_POUT, H_IMD)),
                   (1773, 202 - 43, 1400, CP_FS, CP_LH, cap("d", H_PAE, H_G))])
band3 = band(232, [(275, 49 - 37, 1185, XL_FS, XL_LH, X_G), (1998, 49 - 37, 1185, XL_FS, XL_LH, X_G),
                   (64, 190 - 43, 1400, CP_FS, CP_LH, cap("e", H_IMD, H_G)),
                   (1773, 190 - 43, 1400, CP_FS, CP_LH, cap("f", H_POUT, H_G))])

layout = column(row(figs["a"], figs["b"]), band1,
                row(figs["c"], figs["d"]), band2,
                row(figs["e"], figs["f"]), band3)

open("out.html", "w").write(file_html(layout, INLINE))
